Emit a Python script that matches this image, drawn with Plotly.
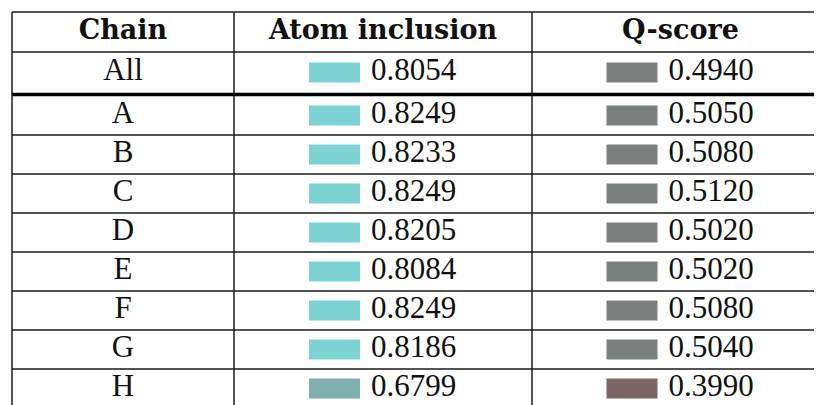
"""
Per-chain model validation table — atom inclusion and Q-score with colour swatches.
"""
import plotly.graph_objects as go

chains = ["All", "A", "B", "C", "D", "E", "F", "G", "H"]
atom_inclusion = [0.8054, 0.8249, 0.8233, 0.8249, 0.8205, 0.8084, 0.8249, 0.8186, 0.6799]
q_score = [0.4940, 0.5050, 0.5080, 0.5120, 0.5020, 0.5020, 0.5080, 0.5040, 0.3990]
headers = ["Chain", "Atom inclusion", "Q-score"]

FONT = "Liberation Serif"
HEAD_FONT = "DejaVu Serif"
LINE = "#1a1a1a"

# table geometry (pixel units of the page, y grows downwards)
W, H = 822, 405
PAGE_PAD = 8          # default body margin of the written html page
COL_EDGES = [12, 234, 532, 829]
TOP = 12
HEAD_H = 40
ALL_H = 41
ROW_H = 39
SW_W, SW_H = 51, 20


def atom_color(v):
    return "#7dd3d2" if v >= 0.75 else "#7eaeae"


def q_color(v):
    return "#7b807f" if v >= 0.45 else "#7b6664"


col_centers = [(a + b) / 2 for a, b in zip(COL_EDGES[:-1], COL_EDGES[1:])]
head_y = TOP + HEAD_H / 2
all_top = TOP + HEAD_H
body_top = all_top + ALL_H + 3
row_y = [all_top + ALL_H / 2] + [body_top + ROW_H * (i + 0.5) for i in range(len(chains) - 1)]

fig = go.Figure()

# swatches
for ci, vals, cfn in [(1, atom_inclusion, atom_color), (2, q_score, q_color)]:
    x0 = col_centers[ci] - 74
    fig.add_trace(go.Bar(
        orientation="h", y=row_y, x=[SW_W] * len(vals), base=[x0] * len(vals),
        width=SW_H, marker=dict(color=[cfn(v) for v in vals], line=dict(width=0)),
        hoverinfo="skip", showlegend=False,
    ))

# header text
fig.add_trace(go.Scatter(
    x=col_centers, y=[head_y] * 3, mode="text", text=[f"<b>{h}</b>" for h in headers],
    textposition="middle center", textfont=dict(family=HEAD_FONT, size=27, color="#111"),
    hoverinfo="skip", showlegend=False,
))
# chain labels
fig.add_trace(go.Scatter(
    x=[col_centers[0]] * len(chains), y=row_y, mode="text", text=chains,
    textposition="middle center", textfont=dict(family=FONT, size=31, color="#111"),
    hoverinfo="skip", showlegend=False,
))
# values
for ci, vals in [(1, atom_inclusion), (2, q_score)]:
    fig.add_trace(go.Scatter(
        x=[col_centers[ci] - 12] * len(vals), y=row_y, mode="text",
        text=[f"{v:.4f}" for v in vals],
        textposition="middle right", textfont=dict(family=FONT, size=31, color="#111"),
        hoverinfo="skip", showlegend=False,
    ))

# rules
shapes = []
for x in COL_EDGES[:-1]:
    shapes.append(dict(type="line", x0=x, x1=x, y0=TOP, y1=H + 5, line=dict(color=LINE, width=1.5)))
hlines = [TOP, all_top] + [body_top + ROW_H * i for i in range(1, len(chains) - 1)]
for y in hlines:
    shapes.append(dict(type="line", x0=COL_EDGES[0], x1=W + 10, y0=y, y1=y, line=dict(color=LINE, width=1.5)))
shapes.append(dict(type="line", x0=COL_EDGES[0], x1=W + 10, y0=all_top + ALL_H + 1.5,
                   y1=all_top + ALL_H + 1.5, line=dict(color="#000", width=3.5)))
for s in shapes:
    s.update(xref="x", yref="y", layer="above")

fig.update_layout(
    width=W - PAGE_PAD, height=H - PAGE_PAD, margin=dict(l=0, r=0, t=0, b=0),
    paper_bgcolor="white", plot_bgcolor="white",
    xaxis=dict(range=[PAGE_PAD, W], visible=False, fixedrange=True),
    yaxis=dict(range=[H, PAGE_PAD], visible=False, fixedrange=True),
    shapes=shapes, barmode="overlay",
)
fig.write_html("out.html")
